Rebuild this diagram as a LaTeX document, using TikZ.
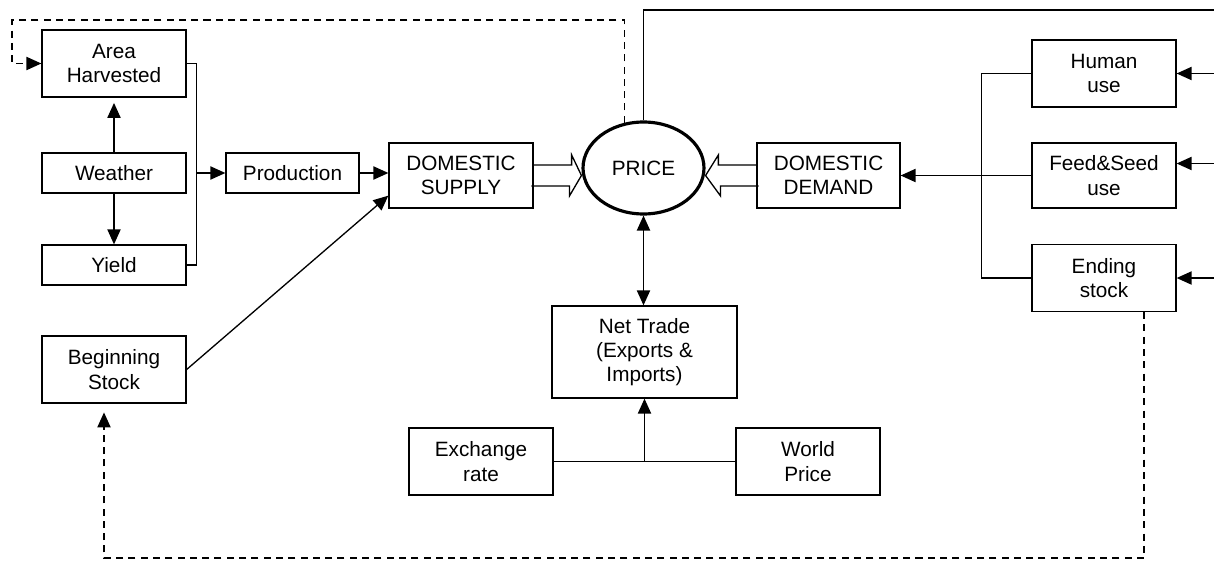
\documentclass[tikz,border=0pt]{standalone}
\usepackage{fontspec}
\setmainfont{Liberation Sans}
\usetikzlibrary{calc,arrows.meta,shapes.geometric}
\tikzset{>={Triangle[length=8.5pt,width=7.5pt]}}
\tikzset{box/.style={draw, line width=0.75pt, align=center, inner sep=0pt, minimum width=2.88cm, minimum height=1.34cm, font=\fontsize{11.8}{13.8}\selectfont}}
\tikzset{feedback/.style={dashed, dash pattern=on 4pt off 3pt}}

\begin{document}
\begin{tikzpicture}[x=0.02cm, y=-0.02cm, line width=0.75pt]
    \useasboundingbox (0,0) rectangle (1214,561);
    % supply side
    \node[box] (area) at (114,63.5) {Area\\Harvested};
    \node[box, minimum height=0.8cm] (weather) at (114,173) {Weather};
    \node[box, minimum height=0.8cm] (yield) at (114,265) {Yield};
    \node[box] (bstock) at (114,369.5) {Beginning\\Stock};
    \node[box, minimum width=2.66cm, minimum height=0.8cm] (prod) at (292.5,173) {Production};
    \node[box, minimum height=1.3cm] (dsupply) at (461,175.5) {DOMESTIC\\SUPPLY};
    % price and trade
    \node[draw, ellipse, line width=1.8pt, inner sep=0pt, minimum width=2.42cm, minimum height=1.84cm, font=\fontsize{11.8}{13.8}\selectfont] (price) at (643.5,168) {PRICE};
    \node[box, minimum width=3.7cm, minimum height=1.84cm] (trade) at (644.5,352) {Net Trade\\(Exports \&\\Imports)};
    \node[box] (exch) at (481,461.5) {Exchange\\rate};
    \node[box] (world) at (808,461.5) {World\\Price};
    % demand side
    \node[box, minimum width=2.86cm, minimum height=1.3cm] (ddemand) at (828.5,175.5) {DOMESTIC\\DEMAND};
    \node[box] (human) at (1104,73.5) {Human\\use};
    \node[box, minimum height=1.3cm] (feed) at (1104,175.5) {Feed\&Seed\\use};
    \node[box] (ending) at (1104,278) {Ending\\stock};
    \coordinate (rtop) at (1220,10);
    \coordinate (fbtop) at (12,20);
    \coordinate (fbbot) at (104,558);

    \draw[->, shorten >=3pt] (weather) -- (area);
    \draw[->] (weather) -- (yield);
    \draw (area.east) -- ++(10,0) |- (yield.east);
    \draw[->] (prod.west -| area.east) ++(10,0) -- (prod.west);
    \draw[->] (prod.east) -- (prod.east -| dsupply.west);
    \draw[->] (bstock.east) -- ($(dsupply.south west)+(0,-13)$);

    % hollow arrows into the price
    \draw ($(dsupply.east)+(0,-10.5)$) -- ++(38,0) -- ++(0,-10) -- (price.west |- dsupply.east)
        -- ++(-12,20.5) -- ++(0,-10) -- ++(-38,0);
    \draw ($(ddemand.west)+(0,-10.5)$) -- ++(-38,0) -- ++(0,-10) -- (price.east |- ddemand.west)
        -- ++(15,20.5) -- ++(0,-10) -- ++(38,0);

    \draw[<->] (price.south) -- (price.south |- trade.north);
    \draw (exch.east) -- (world.west);
    \draw[->] (exch.east -| trade.south) -- (trade.south);

    \draw (human.west) -- ++(-50,0) |- (ending.west);
    \draw[->] (feed.west) -- (ddemand.east);
    \draw (price.north) |- (rtop) -- (rtop |- ending.east);
    \draw[->] (rtop |- human.east) -- (human.east);
    \draw[->] ($(rtop |- feed.east)+(0,-12)$) -- ($(feed.east)+(0,-12)$);
    \draw[->] (rtop |- ending.east) -- (ending.east);

    % feedback loops
    \draw[feedback, ->] (price.113) |- (fbtop) |- (area.west);
    \draw[feedback, ->, shorten >=5pt] ($(ending.south)+(40,0)$) |- (fbbot) -- (fbbot |- bstock.south);
\end{tikzpicture}
\end{document}
